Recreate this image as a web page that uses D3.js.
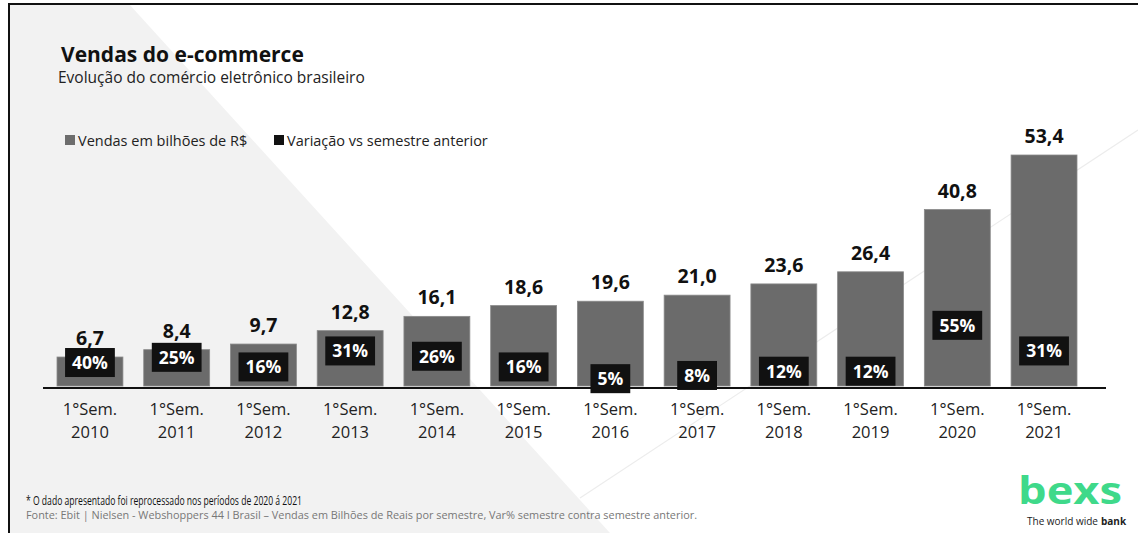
<!DOCTYPE html>
<html>
<head>
<meta charset="utf-8">
<script src="https://cdn.jsdelivr.net/npm/d3@7/dist/d3.min.js"></script>
<style>
html,body{margin:0;padding:0;background:#fff;}
svg{display:block;font-family:"Open Sans","Noto Sans",sans-serif;}
</style>
</head>
<body>
<svg id="chart" width="1138" height="533"></svg>
<script>
// ---- data ----
const categories = ["2010","2011","2012","2013","2014","2015","2016","2017","2018","2019","2020","2021"];
const tickPrefix = "1°Sem.";
const sales = [6.7, 8.4, 9.7, 12.8, 16.1, 18.6, 19.6, 21.0, 23.6, 26.4, 40.8, 53.4];
const variation = [40, 25, 16, 31, 26, 16, 5, 8, 12, 12, 55, 31];
const legendLabels = ["Vendas em bilhões de R$", "Variação vs semestre anterior"];
const title = "Vendas do e-commerce";
const subtitle = "Evolução do comércio eletrônico brasileiro";
const footnote = "* O dado apresentado foi reprocessado nos períodos de 2020 á 2021";
const source = "Fonte: Ebit | Nielsen - Webshoppers 44 I Brasil – Vendas em Bilhões de Reais por semestre, Var% semestre contra semestre anterior.";

const svg = d3.select("#chart");
const W = 1138, H = 533;

// background
svg.append("rect").attr("width", W).attr("height", H).attr("fill", "#fff");
svg.append("polygon").attr("points", "9,4 129,4 610,533 9,533").attr("fill", "#f2f2f2");
svg.append("line").attr("x1", 580).attr("y1", 498).attr("x2", 1138).attr("y2", 130)
  .attr("stroke", "#ececec").attr("stroke-width", 1.2);
// frame
svg.append("line").attr("x1", 8).attr("y1", 4).attr("x2", W).attr("y2", 4).attr("stroke", "#111").attr("stroke-width", 2);
svg.append("line").attr("x1", 9).attr("y1", 3).attr("x2", 9).attr("y2", H).attr("stroke", "#111").attr("stroke-width", 2);

// titles
svg.append("text").attr("x", 61).attr("y", 62).text(title)
  .attr("font-size", 21).attr("font-weight", 700).attr("fill", "#111");
svg.append("text").attr("x", 58).attr("y", 83).text(subtitle)
  .attr("font-size", 15.5).attr("fill", "#222");

// legend
const legendColors = ["#6d6d6d", "#111"];
const legX = [65, 274];
legendLabels.forEach((l, i) => {
  svg.append("rect").attr("x", legX[i]).attr("y", 135).attr("width", 10).attr("height", 10).attr("fill", legendColors[i]);
  svg.append("text").attr("x", legX[i] + 13).attr("y", 145.5).text(l)
    .attr("font-size", 14.5).attr("fill", "#222");
});

// scales
const x = d3.scaleBand().domain(categories).range([57, 1077]).paddingInner(0.24).paddingOuter(0);
const y = d3.scaleLinear().domain([0, 53.4]).range([386, 155]);
const yPct = d3.scaleLinear().domain([0, 60]).range([384, 320]);

// bars
const g = svg.append("g");
g.selectAll("rect.bar").data(sales).join("rect")
  .attr("class", "bar")
  .attr("x", (d, i) => x(categories[i]))
  .attr("width", x.bandwidth())
  .attr("y", d => y(d))
  .attr("height", d => y(0) - y(d))
  .attr("fill", "#6b6b6b")
  .attr("stroke", "#8a8a8a").attr("stroke-width", 0.8);

// value labels
const fmt = v => d3.format(".1f")(v).replace(".", ",");
g.selectAll("text.val").data(sales).join("text")
  .attr("class", "val")
  .attr("x", (d, i) => x(categories[i]) + x.bandwidth() / 2)
  .attr("y", d => y(d) - 12)
  .attr("text-anchor", "middle")
  .attr("font-size", 19.5).attr("font-weight", 700).attr("fill", "#111")
  .text(d => fmt(d));

// axis line
svg.append("line").attr("x1", 43).attr("x2", 1106).attr("y1", 388).attr("y2", 388)
  .attr("stroke", "#111").attr("stroke-width", 2);

// percentage boxes
const boxH = 29;
variation.forEach((v, i) => {
  const cx = x(categories[i]) + x.bandwidth() / 2;
  let top = yPct(v) - boxH / 2;
  const labelBase = y(sales[i]) - 12;
  top = Math.max(top, labelBase + 3);
  const bg = svg.append("g");
  const rect = bg.append("rect").attr("fill", "#111");
  const t = bg.append("text").attr("x", cx).attr("y", top + boxH / 2 + 6.3)
    .attr("text-anchor", "middle").attr("font-size", 17.5).attr("font-weight", 700)
    .attr("fill", "#fff").text(v + "%");
  const w = t.node().getComputedTextLength() + 14;
  rect.attr("x", cx - w / 2).attr("y", top).attr("width", w).attr("height", boxH);
});

// tick labels
const ticks = svg.append("g");
categories.forEach((c, i) => {
  const cx = x(c) + x.bandwidth() / 2;
  ticks.append("text").attr("x", cx).attr("y", 415).attr("text-anchor", "middle")
    .attr("font-size", 16.5).attr("fill", "#222").text(tickPrefix);
  ticks.append("text").attr("x", cx).attr("y", 438).attr("text-anchor", "middle")
    .attr("font-size", 16.5).attr("fill", "#222").text(c);
});

// footnotes
svg.append("text").attr("x", 26).attr("y", 505).text(footnote)
  .attr("font-size", 12).attr("fill", "#111").attr("textLength", 276).attr("lengthAdjust", "spacingAndGlyphs");
svg.append("text").attr("x", 26).attr("y", 519).text(source)
  .attr("font-size", 10).attr("fill", "#777").attr("textLength", 671).attr("lengthAdjust", "spacingAndGlyphs");

// logo
svg.append("text").attr("x", 1018).attr("y", 504).text("bexs")
  .attr("font-size", 37).attr("font-weight", 700).attr("fill", "#3fd98a")
  .attr("textLength", 104).attr("lengthAdjust", "spacingAndGlyphs");
const tag1 = svg.append("text").attr("x", 1027).attr("y", 525).attr("font-size", 10).attr("fill", "#222")
  .text("The world wide");
const tlen = tag1.node().getComputedTextLength();
svg.append("text").attr("x", 1027 + tlen + 3).attr("y", 525).attr("font-size", 10)
  .attr("font-weight", 700).attr("fill", "#222").text("bank");
</script>
</body>
</html>
